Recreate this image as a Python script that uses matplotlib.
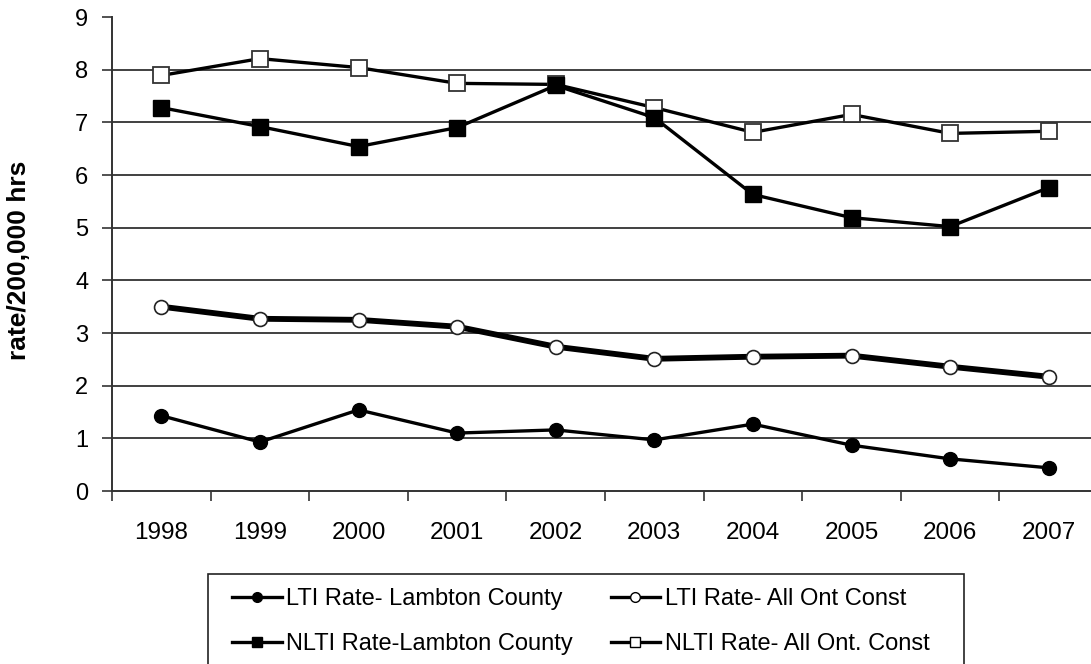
import matplotlib
matplotlib.use("Agg")
import matplotlib.pyplot as plt
from matplotlib.lines import Line2D
from matplotlib.patches import Rectangle

plt.rcParams['font.family'] = ['Liberation Sans', 'DejaVu Sans']

years = ["1998", "1999", "2000", "2001", "2002", "2003", "2004", "2005", "2006", "2007"]

lti_lambton = [1.43, 0.93, 1.54, 1.10, 1.16, 0.97, 1.27, 0.87, 0.61, 0.44]
lti_ont = [3.50, 3.27, 3.25, 3.12, 2.74, 2.51, 2.55, 2.57, 2.36, 2.17]
nlti_lambton = [7.28, 6.92, 6.54, 6.90, 7.70, 7.09, 5.63, 5.19, 5.02, 5.76]
nlti_ont = [7.89, 8.21, 8.04, 7.74, 7.72, 7.28, 6.81, 7.15, 6.79, 6.83]

W, H = 1091, 664
fig = plt.figure(figsize=(W / 100, H / 100), dpi=100)
# plot area runs slightly past the right edge of the canvas
ax = fig.add_axes([112 / W, 1 - 491 / H, (1098 - 112) / W, (491 - 17) / H])

x = list(range(len(years)))

ax.plot(x, nlti_ont, color="black", lw=2.4, marker="s", ms=12,
        mfc="white", mec="#333333", mew=1.3, zorder=3,
        label="NLTI Rate- All Ont. Const")
ax.plot(x, nlti_lambton, color="black", lw=2.4, marker="s", ms=12,
        mfc="black", mec="black", zorder=4,
        label="NLTI Rate-Lambton County")
ax.plot(x, lti_ont, color="black", lw=4.2, marker="o", ms=10,
        mfc="white", mec="#222222", mew=1.2, zorder=3,
        label="LTI Rate- All Ont Const")
ax.plot(x, lti_lambton, color="black", lw=2.4, marker="o", ms=10,
        mfc="black", mec="black", zorder=4,
        label="LTI Rate- Lambton County")

ax.set_xlim(-0.5, len(years) - 0.5)
ax.set_ylim(0, 9)
ax.set_yticks(range(0, 10))
ax.set_xticks(x)
ax.set_xticklabels(years)
ax.set_xticks([i + 0.5 for i in range(-1, len(years))], minor=True)
ax.tick_params(axis="x", which="major", length=0, pad=22, labelsize=17.5)
ax.tick_params(axis="x", which="minor", length=7, width=1.2, color="#333333", direction="out")
ax.tick_params(axis="y", length=7, width=1.2, color="#333333", labelsize=17, pad=10)

for v in range(1, 9):
    ax.axhline(v, color="#404040", lw=1.4, zorder=1)

for side in ("top", "right"):
    ax.spines[side].set_visible(False)
for side in ("left", "bottom"):
    ax.spines[side].set_color("#333333")
    ax.spines[side].set_linewidth(1.4)

fig.text(19 / W, 1 - 260 / H, "rate/200,000 hrs", rotation=90, fontsize=19,
         fontweight="bold", ha="center", va="center")

handles = [
    Line2D([], [], color="black", lw=2.4, marker="o", ms=7, mfc="black", mec="black"),
    Line2D([], [], color="black", lw=2.4, marker="s", ms=7, mfc="black", mec="black"),
    Line2D([], [], color="black", lw=2.4, marker="o", ms=7, mfc="white", mec="black", mew=1),
    Line2D([], [], color="black", lw=2.4, marker="s", ms=7, mfc="white", mec="black", mew=1),
]
labels = ["LTI Rate- Lambton County", "NLTI Rate-Lambton County",
          "LTI Rate- All Ont Const", "NLTI Rate- All Ont. Const"]

# legend frame, open at the bottom edge of the canvas
fig.patches.append(Rectangle((208 / W, -0.05), (964 - 208) / W, 0.05 + 1 - 574 / H,
                             transform=fig.transFigure, fill=False,
                             edgecolor="#222222", lw=1.2))

fig.legend(handles, labels, ncol=2, loc="upper left",
           bbox_to_anchor=(232 / W, 1 - 588 / H),
           frameon=False, borderaxespad=0, borderpad=0,
           handlelength=2.1, handletextpad=0.2,
           labelspacing=0.98, columnspacing=1.59,
           prop={"size": 17})

fig.savefig("out.png", dpi=100)
